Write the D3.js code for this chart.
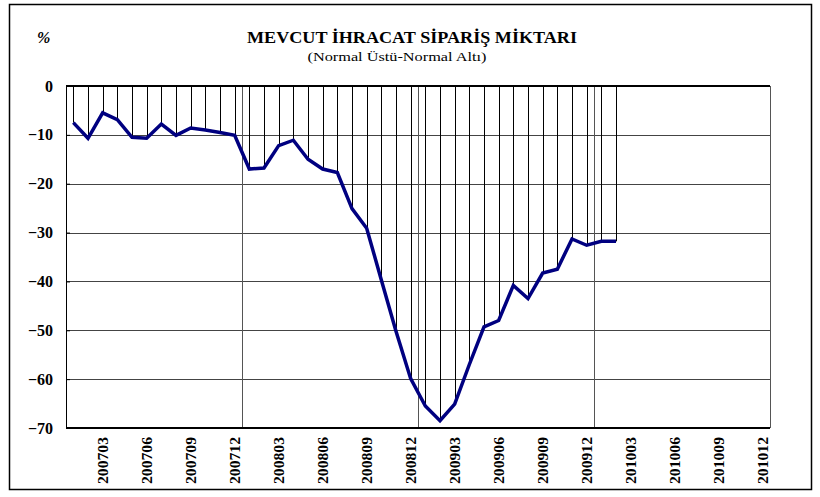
<!DOCTYPE html>
<html>
<head>
<meta charset="utf-8">
<script src="https://cdn.jsdelivr.net/npm/d3@7"></script>
<style>
  body { margin: 0; background: #fff; }
  svg text { font-family: "Liberation Serif", "Times New Roman", serif; }
</style>
</head>
<body>
<div id="chart"></div>
<script>
// months on the category axis, 200701 .. 201012
var months = [];
for (var yr = 2007; yr <= 2010; yr++) {
  for (var mo = 1; mo <= 12; mo++) {
    months.push(String(yr) + (mo < 10 ? '0' + mo : mo));
  }
}

// survey values, 200701 .. 201002
var values = [
  -7.5, -10.7, -5.5, -6.9, -10.5, -10.7, -7.8, -10.1, -8.6, -9.0, -9.5, -10.1,
  -17.0, -16.8, -12.2, -11.1, -15.0, -17.0, -17.7, -25.1, -29.1, -39.7, -50.2, -59.9,
  -65.5, -68.5, -65.1, -57.0, -49.3, -48.0, -40.8, -43.5, -38.3, -37.5, -31.3, -32.6,
  -31.8, -31.8
];

var yTicks = [0, -10, -20, -30, -40, -50, -60, -70];

var title = 'MEVCUT İHRACAT SİPARİŞ MİKTARI';
var subtitle = '(Normal Üstü-Normal Altı)';

var width = 820, height = 497;
var plot = { left: 66, right: 770, top: 86, bottom: 428 };
var serif = '"Liberation Serif", "Times New Roman", serif';

var svg = d3.select('#chart').append('svg')
  .attr('width', width)
  .attr('height', height);

// outer frame
svg.append('rect')
  .attr('x', 9.5).attr('y', 4.5)
  .attr('width', 802).attr('height', 485)
  .attr('fill', 'none')
  .attr('stroke', '#000')
  .attr('stroke-width', 1.5);

var x = d3.scaleBand()
  .domain(months)
  .range([plot.left, plot.right])
  .padding(0);

var y = d3.scaleLinear()
  .domain([-70, 0])
  .range([plot.bottom, plot.top]);

function cx(i) { return x(months[i]) + x.bandwidth() / 2; }

// horizontal gridlines
svg.append('g').selectAll('line')
  .data(yTicks.filter(function(d) { return d !== 0 && d !== -70; }))
  .enter().append('line')
  .attr('x1', plot.left).attr('x2', plot.right)
  .attr('y1', function(d) { return Math.round(y(d)) + 0.5; })
  .attr('y2', function(d) { return Math.round(y(d)) + 0.5; })
  .attr('stroke', '#444')
  .attr('stroke-width', 1);

// year separators
svg.append('g').selectAll('line')
  .data(['200801', '200901', '201001'])
  .enter().append('line')
  .attr('x1', function(d) { return Math.round(x(d)) + 0.5; })
  .attr('x2', function(d) { return Math.round(x(d)) + 0.5; })
  .attr('y1', plot.top).attr('y2', plot.bottom)
  .attr('stroke', '#555')
  .attr('stroke-width', 1);

// right border of the plot area
svg.append('line')
  .attr('x1', plot.right + 0.5).attr('x2', plot.right + 0.5)
  .attr('y1', plot.top).attr('y2', plot.bottom)
  .attr('stroke', '#555');

// drop lines from each point up to zero
svg.append('g').selectAll('line')
  .data(values)
  .enter().append('line')
  .attr('x1', function(d, i) { return Math.round(cx(i)) + 0.5; })
  .attr('x2', function(d, i) { return Math.round(cx(i)) + 0.5; })
  .attr('y1', y(0))
  .attr('y2', function(d) { return y(d); })
  .attr('stroke', '#000')
  .attr('stroke-width', 1);

// y axis
var yAxis = d3.axisLeft(y)
  .tickValues(yTicks)
  .tickSize(-4)
  .tickPadding(13)
  .tickFormat(d3.format('d'));

var gy = svg.append('g')
  .attr('transform', 'translate(' + plot.left + ',0)')
  .call(yAxis);
gy.attr('font-family', serif);
gy.select('.domain').attr('stroke', '#000');
gy.selectAll('.tick line').attr('stroke', '#000');
gy.selectAll('text')
  .style('font-family', serif)
  .attr('font-size', 16)
  .attr('font-weight', 'bold')
  .attr('fill', '#000');

// zero line and bottom axis line
svg.append('line')
  .attr('x1', plot.left).attr('x2', plot.right)
  .attr('y1', y(0)).attr('y2', y(0))
  .attr('stroke', '#000').attr('stroke-width', 2);
svg.append('line')
  .attr('x1', plot.left).attr('x2', plot.right)
  .attr('y1', y(-70)).attr('y2', y(-70))
  .attr('stroke', '#000').attr('stroke-width', 2);

// x labels, every third month
var xLabels = months.filter(function(d, i) { return i % 3 === 2; });
svg.append('g').selectAll('text')
  .data(xLabels)
  .enter().append('text')
  .attr('transform', function(d) {
    return 'translate(' + (x(d) + x.bandwidth() / 2) + ',' + 437 + ') rotate(-90)';
  })
  .attr('text-anchor', 'end')
  .attr('dy', '0.35em')
  .style('font-family', serif)
  .attr('font-size', 15.5)
  .attr('font-weight', 'bold')
  .attr('textLength', 47)
  .attr('lengthAdjust', 'spacingAndGlyphs')
  .text(function(d) { return d; });

// the series line
var line = d3.line()
  .x(function(d, i) { return cx(i); })
  .y(function(d) { return y(d); });

svg.append('path')
  .datum(values)
  .attr('d', line)
  .attr('fill', 'none')
  .attr('stroke', '#000080')
  .attr('stroke-width', 3.5)
  .attr('stroke-linejoin', 'miter');

// titles
svg.append('text')
  .attr('x', 412).attr('y', 43)
  .attr('text-anchor', 'middle')
  .attr('font-size', 17)
  .attr('font-weight', 'bold')
  .attr('textLength', 330)
  .attr('lengthAdjust', 'spacingAndGlyphs')
  .text(title);

svg.append('text')
  .attr('x', 397).attr('y', 60.5)
  .attr('text-anchor', 'middle')
  .attr('font-size', 13.5)
  .attr('textLength', 179)
  .attr('lengthAdjust', 'spacingAndGlyphs')
  .text(subtitle);

svg.append('text')
  .attr('x', 37).attr('y', 43)
  .attr('font-size', 16)
  .attr('font-weight', 'bold')
  .attr('font-style', 'italic')
  .text('%');
</script>
</body>
</html>
